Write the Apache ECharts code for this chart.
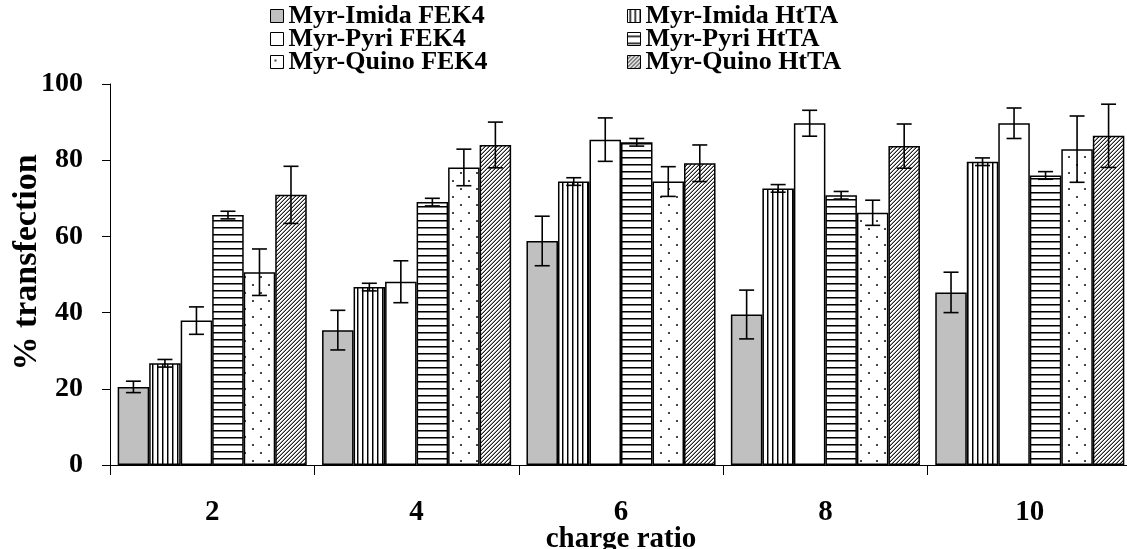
<!DOCTYPE html>
<html>
<head>
<meta charset="utf-8">
<script src="https://cdn.jsdelivr.net/npm/echarts@6/dist/echarts.min.js"></script>
<style>
html,body{margin:0;padding:0;background:#fff;}
#chart{width:1127px;height:549px;}
</style>
</head>
<body>
<div id="chart"></div>
<script>
// ---- data ----
var categories = ['2', '4', '6', '8', '10'];
var seriesNames = ['Myr-Imida FEK4', 'Myr-Imida HtTA', 'Myr-Pyri FEK4', 'Myr-Pyri HtTA', 'Myr-Quino FEK4', 'Myr-Quino HtTA'];
var imidaFEK4 = [20.5, 35.4, 58.8, 39.5, 45.3];
var imidaFEK4Err = [1.5, 5.2, 6.5, 6.4, 5.3];
var imidaHtTA = [26.7, 46.7, 74.4, 72.6, 79.6];
var imidaHtTAErr = [1.0, 1.0, 1.0, 1.0, 1.0];
var pyriFEK4 = [37.9, 48.1, 85.4, 89.7, 89.7];
var pyriFEK4Err = [3.6, 5.5, 5.7, 3.4, 4.0];
var pyriHtTA = [65.6, 69.0, 84.7, 70.8, 76.0];
var pyriHtTAErr = [1.0, 1.0, 1.0, 1.0, 1.0];
var quinoFEK4 = [50.6, 78.1, 74.4, 66.2, 82.9];
var quinoFEK4Err = [6.1, 4.8, 3.9, 3.3, 8.7];
var quinoHtTA = [70.9, 84.0, 79.2, 83.7, 86.4];
var quinoHtTAErr = [7.5, 6.0, 4.8, 5.8, 8.3];
var yTicks = [0, 20, 40, 60, 80, 100];

var values = [imidaFEK4, imidaHtTA, pyriFEK4, pyriHtTA, quinoFEK4, quinoHtTA];
var errors = [imidaFEK4Err, imidaHtTAErr, pyriFEK4Err, pyriHtTAErr, quinoFEK4Err, quinoHtTAErr];

// ---- patterns ----
function mk(w, h, draw) {
  var c = document.createElement('canvas');
  c.width = w; c.height = h;
  var g = c.getContext('2d');
  g.fillStyle = '#fff'; g.fillRect(0, 0, w, h);
  draw(g);
  return { image: c, repeat: 'repeat' };
}
var pVert = mk(5, 5, function (g) {
  g.fillStyle = '#000'; g.fillRect(2, 0, 1, 5);
  g.fillStyle = '#888'; g.fillRect(3, 0, 1, 5);
});
var pHoriz = mk(7, 7, function (g) {
  g.fillStyle = '#000'; g.fillRect(0, 3, 7, 1);
  g.fillStyle = '#777'; g.fillRect(0, 4, 7, 1);
});
var pDots = mk(16, 16, function (g) {
  g.fillStyle = '#444';
  g.fillRect(4, 4, 2, 2);
  g.fillRect(12, 12, 2, 2);
});
var pHatch = mk(4, 4, function (g) {
  for (var x = 0; x < 4; x++) for (var y = 0; y < 4; y++) {
    var k = (x + y) % 4;
    if (k === 3) { g.fillStyle = '#222'; g.fillRect(x, y, 1, 1); }
    else if (k === 2) { g.fillStyle = '#999'; g.fillRect(x, y, 1, 1); }
  }
});
var fills = ['#c0c0c0', pVert, '#ffffff', pHoriz, pDots, pHatch];

var FONT = '"Liberation Serif", "Times New Roman", serif';
var GAP = 0.075;

var series = [];
seriesNames.forEach(function (name, i) {
  series.push({
    name: name,
    type: 'bar',
    data: values[i],
    barGap: 0,
    barCategoryGap: (GAP * 100) + '%',
    itemStyle: { color: fills[i], borderColor: '#000', borderWidth: 1.5 },
    emphasis: { disabled: true },
    z: 2
  });
});
seriesNames.forEach(function (name, i) {
  series.push({
    type: 'custom',
    name: name + ' err',
    z: 5,
    silent: true,
    data: values[i].map(function (v, k) { return [k, v, errors[i][k]]; }),
    renderItem: function (params, api) {
      var ci = api.value(0), v = api.value(1), e = api.value(2);
      var band = api.size([1, 0])[0];
      var bw = band * (1 - GAP) / 6;
      var c = api.coord([ci, v]);
      var x = c[0] + (i - 2.5) * bw;
      var top = api.coord([ci, v + e])[1];
      var bot = api.coord([ci, v - e])[1];
      var hw = 7.5;
      var st = { stroke: '#000', lineWidth: 1.6 };
      return {
        type: 'group',
        children: [
          { type: 'line', shape: { x1: x, y1: top, x2: x, y2: bot }, style: st },
          { type: 'line', shape: { x1: x - hw, y1: top, x2: x + hw, y2: top }, style: st },
          { type: 'line', shape: { x1: x - hw, y1: bot, x2: x + hw, y2: bot }, style: st }
        ]
      };
    }
  });
});

var legendText = { fontFamily: FONT, fontWeight: 'bold', fontSize: 26, color: '#000', lineHeight: 22 };
var chart = echarts.init(document.getElementById('chart'), null, { renderer: 'canvas' });
chart.setOption({
  animation: false,
  backgroundColor: '#fff',
  grid: { left: 110, top: 84, width: 1022, height: 381, containLabel: false, outerBoundsMode: 'none' },
  legend: [
    {
      orient: 'vertical', left: 270, top: 3, itemWidth: 13, itemHeight: 13, itemGap: -3,
      icon: 'rect', selectedMode: false, padding: 0,
      data: [seriesNames[0], seriesNames[2], seriesNames[4]],
      textStyle: legendText,
      itemStyle: { borderColor: '#000', borderWidth: 1 }
    },
    {
      orient: 'vertical', left: 627, top: 3, itemWidth: 13, itemHeight: 13, itemGap: -3,
      icon: 'rect', selectedMode: false, padding: 0,
      data: [seriesNames[1], seriesNames[3], seriesNames[5]],
      textStyle: legendText,
      itemStyle: { borderColor: '#000', borderWidth: 1 }
    }
  ],
  xAxis: {
    type: 'category',
    data: categories,
    name: 'charge ratio',
    nameLocation: 'middle',
    nameGap: 60,
    nameMoveOverlap: false,
    nameTextStyle: { fontFamily: FONT, fontWeight: 'bold', fontSize: 29, color: '#000' },
    axisLine: { lineStyle: { color: '#000', width: 1 } },
    axisTick: { show: true, length: 10, lineStyle: { color: '#000' } },
    axisLabel: { margin: 33, fontFamily: FONT, fontWeight: 'bold', fontSize: 29, color: '#000' },
    splitLine: { show: false }
  },
  yAxis: {
    type: 'value',
    min: yTicks[0],
    max: yTicks[yTicks.length - 1],
    interval: 20,
    name: '% transfection',
    nameLocation: 'middle',
    nameGap: 66,
    nameMoveOverlap: false,
    nameRotate: 90,
    nameTextStyle: { fontFamily: FONT, fontWeight: 'bold', fontSize: 34, color: '#000', padding: [0, 0, 0, 24] },
    axisLine: { show: true, lineStyle: { color: '#000', width: 1 } },
    axisTick: { show: true, length: 8, lineStyle: { color: '#000' } },
    axisLabel: { margin: 27, fontFamily: FONT, fontWeight: 'bold', fontSize: 28, color: '#000' },
    splitLine: { show: false }
  },
  series: series
});
</script>
</body>
</html>
